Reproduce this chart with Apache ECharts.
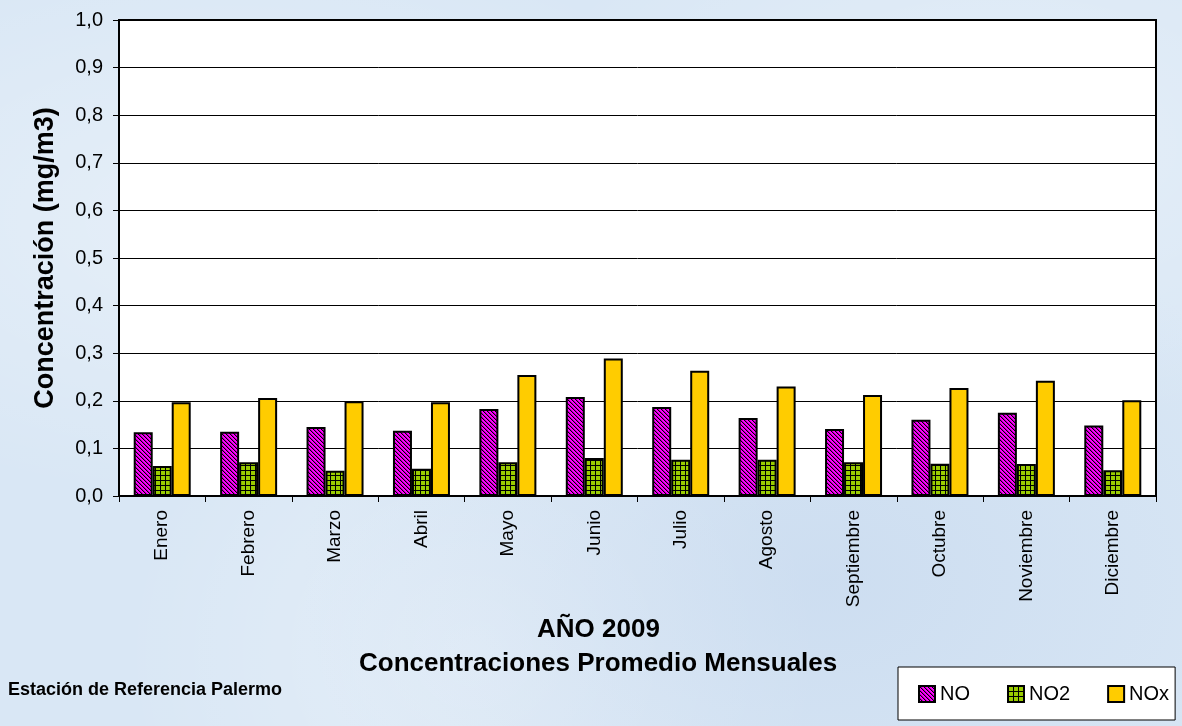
<!DOCTYPE html>
<html><head><meta charset="utf-8">
<script src="https://cdn.jsdelivr.net/npm/echarts@6/dist/echarts.min.js"></script>
<style>
html,body{margin:0;padding:0;}
body{width:1182px;height:726px;background:#d9e7f5;
background-image:
radial-gradient(ellipse at 20% 30%, rgba(255,255,255,0.35), rgba(255,255,255,0) 40%),
radial-gradient(ellipse at 70% 80%, rgba(190,210,235,0.45), rgba(190,210,235,0) 45%),
radial-gradient(ellipse at 85% 20%, rgba(255,255,255,0.3), rgba(255,255,255,0) 35%),
radial-gradient(ellipse at 40% 90%, rgba(255,255,255,0.3), rgba(255,255,255,0) 35%);}
#c{width:1182px;height:726px;}
</style></head>
<body><div id="c"></div>
<script>
const categories = ['Enero','Febrero','Marzo','Abril','Mayo','Junio','Julio','Agosto','Septiembre','Octubre','Noviembre','Diciembre'];
const noValues  = [0.134,0.135,0.145,0.137,0.183,0.208,0.187,0.164,0.141,0.160,0.175,0.148];
const no2Values = [0.063,0.071,0.053,0.057,0.071,0.080,0.076,0.076,0.071,0.068,0.067,0.054];
const noxValues = [0.197,0.206,0.199,0.197,0.254,0.289,0.263,0.230,0.212,0.227,0.242,0.201];
const seriesNames = ['NO','NO2','NOx'];
const yTickLabels = ['0,0','0,1','0,2','0,3','0,4','0,5','0,6','0,7','0,8','0,9','1,0'];

function stripePattern(){
  const n=4, c=document.createElement('canvas'); c.width=n; c.height=n;
  const g=c.getContext('2d');
  g.fillStyle='#ff00ff'; g.fillRect(0,0,n,n);
  for(let y=0;y<n;y++){
    g.fillStyle='#000'; g.fillRect(y% n,y,1,1);
    g.fillStyle='#b000b0'; g.fillRect((y+1)% n,y,1,1);
  }
  return c;
}
function gridPattern(){
  const c=document.createElement('canvas'); c.width=5; c.height=5;
  const g=c.getContext('2d');
  g.fillStyle='#99cc00'; g.fillRect(0,0,5,5);
  g.fillStyle='#000'; g.fillRect(0,0,5,1); g.fillRect(0,0,1,5);
  return c;
}
const chart = echarts.init(document.getElementById('c'), null, {renderer:'canvas'});
const font = 'Arial, "Liberation Sans", sans-serif';
const border = {borderColor:'#000', borderWidth:2};
chart.setOption({
  backgroundColor:'transparent',
  animation:false,
  textStyle:{fontFamily:font, color:'#000'},
  title:[
    {text:'AÑO 2009', left:537, top:617, padding:0, textStyle:{fontFamily:font,fontSize:26,fontWeight:'bold',color:'#000'}},
    {text:'Concentraciones Promedio Mensuales', left:359, top:651, padding:0, textStyle:{fontFamily:font,fontSize:26,fontWeight:'bold',color:'#000'}},
    {text:'Estación de Referencia Palermo', left:8, top:681, padding:0, textStyle:{fontFamily:font,fontSize:18,fontWeight:'bold',color:'#000'}}
  ],
  legend:{
    data:seriesNames, left:898, top:667, orient:'horizontal', icon:'rect',
    backgroundColor:'#fff', borderColor:'#000', borderWidth:1,
    padding:[17,6,16,20], itemGap:37, itemWidth:16, itemHeight:16,
    textStyle:{fontFamily:font,fontSize:20,color:'#000'}
  },
  grid:{left:119, right:26, top:20, bottom:230, show:true, backgroundColor:'#fff', borderColor:'#000', borderWidth:2},
  xAxis:{
    type:'category', data:categories,
    axisLine:{lineStyle:{color:'#000',width:2}},
    axisTick:{show:true, length:6, lineStyle:{color:'#000'}},
    axisLabel:{rotate:90, fontFamily:font, fontSize:19, color:'#000', margin:14}
  },
  yAxis:{
    type:'value', min:0, max:1, interval:0.1,
    name:'Concentración (mg/m3)', nameLocation:'middle', nameGap:60, nameRotate:90,
    nameTextStyle:{fontFamily:font,fontSize:27,fontWeight:'bold',color:'#000'},
    axisLine:{show:true,lineStyle:{color:'#000',width:2}},
    axisTick:{show:true,length:6,lineStyle:{color:'#000'}},
    axisLabel:{fontFamily:font,fontSize:20,color:'#000',margin:16,
      formatter:(v)=>yTickLabels[Math.round(v*10)]},
    splitLine:{show:true,lineStyle:{color:'#000',width:1}}
  },
  series:[
    {name:seriesNames[0], type:'bar', data:noValues, barWidth:19, barGap:'0%',
     itemStyle:Object.assign({color:{image:stripePattern(),repeat:'repeat'}},border)},
    {name:seriesNames[1], type:'bar', data:no2Values, barWidth:19, barGap:'0%',
     itemStyle:Object.assign({color:{image:gridPattern(),repeat:'repeat'}},border)},
    {name:seriesNames[2], type:'bar', data:noxValues, barWidth:19, barGap:'0%',
     itemStyle:Object.assign({color:'#ffcc00'},border)}
  ]
});
</script></body></html>
